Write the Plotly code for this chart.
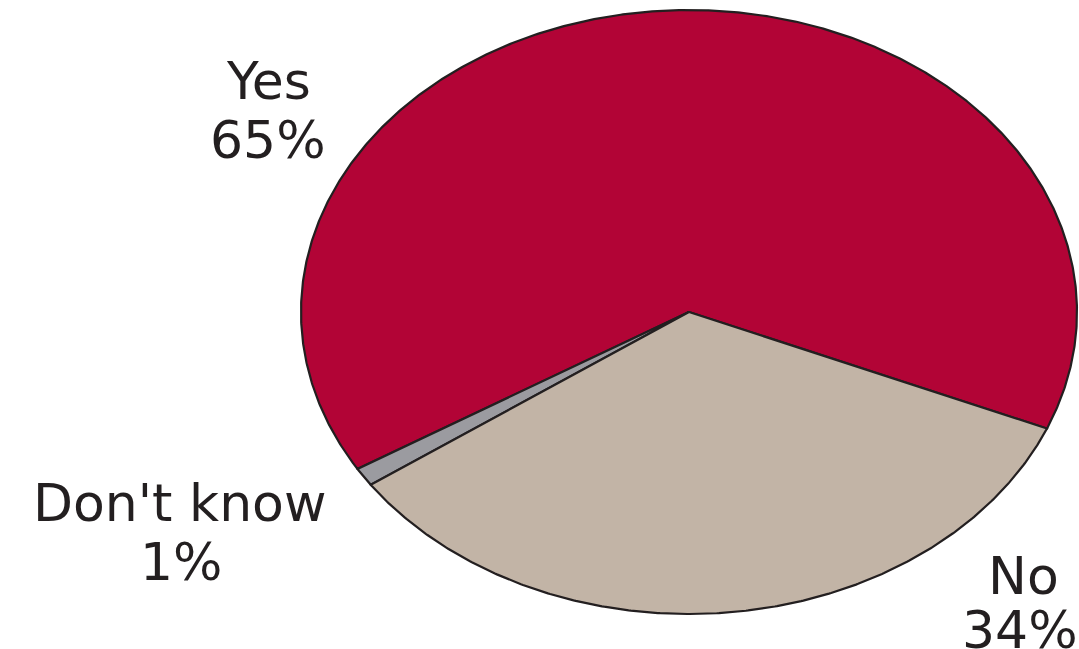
import numpy as np
import plotly.graph_objects as go

# Data
labels = ["Yes", "Don't know", "No"]
values = [65, 1, 34]
colors = ["#B20436", "#9B9BA0", "#C2B4A6"]

# Layout constants (pixels)
W, H = 1079, 649
CX, CY, RX, RY = 689, 312, 388, 302
START_DEG = -22.7  # math angle where the first slice begins (counterclockwise)

fig = go.Figure()

total = float(sum(values))
cum = START_DEG
for lab, val, col in zip(labels, values, colors):
    span = 360.0 * val / total
    th = np.radians(np.linspace(cum, cum + span, max(int(span * 3), 4)))
    xs = np.concatenate([[0.0], np.cos(th), [0.0]])
    ys = np.concatenate([[0.0], np.sin(th), [0.0]])
    fig.add_trace(go.Scatter(
        x=xs, y=ys, mode="lines", fill="toself", fillcolor=col,
        line=dict(color="#231F20", width=2.2), name=lab, hoverinfo="name",
        showlegend=False,
    ))
    cum += span

# axis ranges so that unit ellipse maps to pixel ellipse
x0 = (0 - CX) / RX
x1 = (W - CX) / RX
y1 = (CY - 0) / RY
y0 = (CY - H) / RY
fig.update_xaxes(range=[x0, x1], visible=False, fixedrange=True)
fig.update_yaxes(range=[y0, y1], visible=False, fixedrange=True)

# label positions (pixels): (name line center, percent line center)
label_pos = {
    "Yes": ((268, 81), (268, 140)),
    "Don't know": ((179, 503), (181, 562)),
    "No": ((1023, 576), (1020, 630)),
}
font = dict(family="DejaVu Sans", size=52, color="#231F20")
for lab, val in zip(labels, values):
    (ax, ay), (bx, by) = label_pos[lab]
    fig.add_annotation(x=ax / W, y=1 - ay / H, xref="paper", yref="paper",
                       text=lab, showarrow=False, xanchor="center", yanchor="middle", font=font)
    fig.add_annotation(x=bx / W, y=1 - by / H, xref="paper", yref="paper",
                       text=f"{val}%", showarrow=False, xanchor="center", yanchor="middle", font=font)

fig.update_layout(
    width=W, height=H,
    margin=dict(l=0, r=0, t=0, b=0),
    paper_bgcolor="white", plot_bgcolor="white",
    showlegend=False,
)

fig.write_html("out.html", config={"displayModeBar": False},
               post_script="document.body.style.margin='0';")
